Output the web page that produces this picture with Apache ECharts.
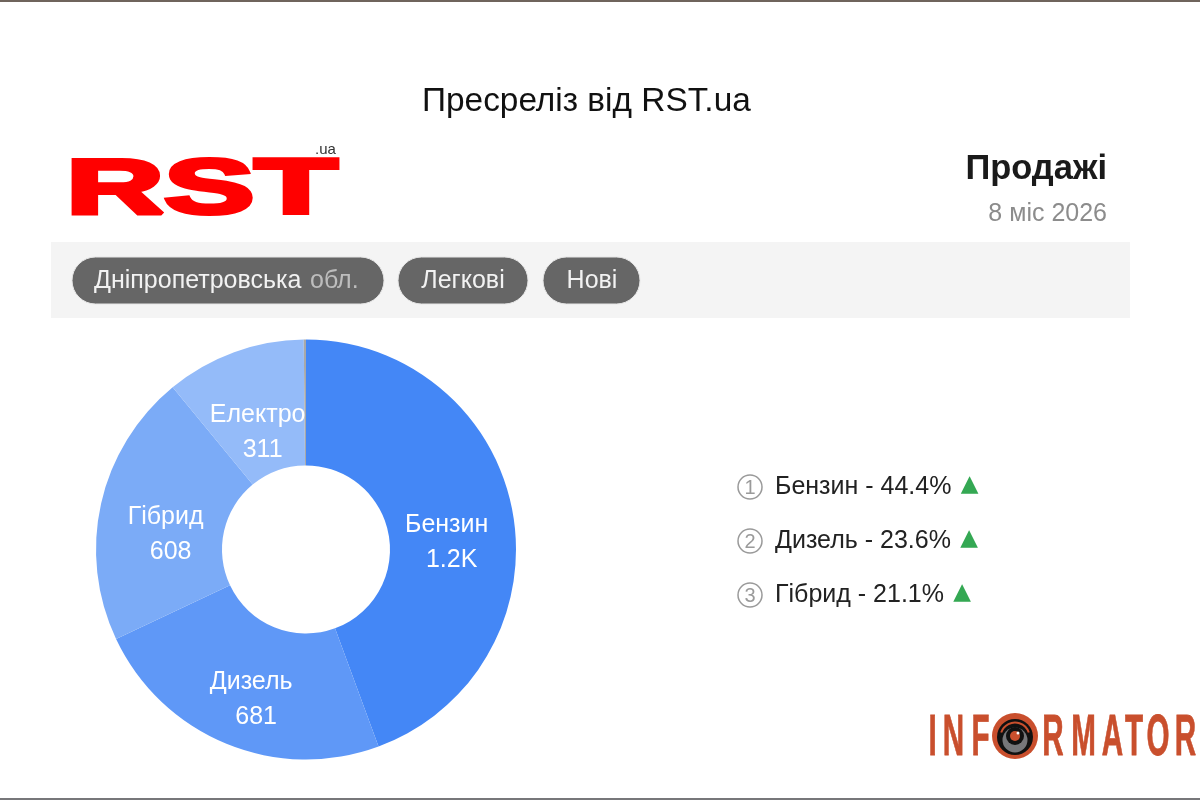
<!DOCTYPE html>
<html>
<head>
<meta charset="utf-8">
<title>RST.ua</title>
<script src="https://cdn.jsdelivr.net/npm/echarts@6/dist/echarts.min.js"></script>
<style>
  html, body { margin: 0; padding: 0; background: #fff; }
  #chart { width: 1200px; height: 800px; }
</style>
</head>
<body>
<div id="chart"></div>
<script>
// дані
var fuelNames = ['Бензин', 'Дизель', 'Гібрид', 'Електро', 'Інше'];
var fuelValues = [1281, 681, 608, 311, 5];
var fuelLabels = ['1.2K', '681', '608', '311', ''];
var topNames = ['Бензин', 'Дизель', 'Гібрид'];
var topShares = ['44.4', '23.6', '21.1'];
var filterTags = ['Легкові', 'Нові'];

// стилі
var fuelColors = ['#4487f6', '#5f98f7', '#7babf7', '#94bbf9', '#a9a9a9'];
var labelOffsets = [[-7, 19], [2, 11], [6, 18], [3, 24], [0, 0]];

var font = '"Liberation Sans", Arial, sans-serif';
var myChart = echarts.init(document.getElementById('chart'));

var pieData = fuelNames.map(function (name, i) {
  return {
    name: name,
    value: fuelValues[i],
    itemStyle: { color: fuelColors[i] },
    label: {
      show: fuelLabels[i] !== '',
      formatter: '{n|' + name + '}\n{v|' + fuelLabels[i] + '}',
      offset: labelOffsets[i]
    }
  };
});

function txt(x, y, text, size, color, extra) {
  var style = { x: x, y: y, text: text, fontSize: size, fill: color, fontFamily: font, verticalAlign: 'middle' };
  for (var k in extra) style[k] = extra[k];
  return { type: 'text', style: style };
}

function pill(x, w) {
  return { type: 'rect', shape: { x: x, y: 257, width: w, height: 47, r: 23.5 },
    style: { fill: '#666666', stroke: '#e6e6e6', lineWidth: 1 } };
}

var graphics = [
  { type: 'rect', shape: { x: 0, y: 0, width: 1200, height: 2 }, style: { fill: '#6f645c' } },
  { type: 'rect', shape: { x: 0, y: 798, width: 1200, height: 2 }, style: { fill: '#77777a' } },
  // смуга фільтрів
  { type: 'rect', shape: { x: 51, y: 242, width: 1079, height: 76 }, style: { fill: '#f4f4f4' } },
  pill(72, 312), pill(398, 130), pill(543, 97),
  txt(94, 281, 'Дніпропетровська', 25, '#f2f2f2'),
  txt(310, 281, 'обл.', 25, '#bdbdbd'),
  txt(463, 281, filterTags[0], 25, '#f2f2f2', { textAlign: 'center' }),
  txt(592, 281, filterTags[1], 25, '#f2f2f2', { textAlign: 'center' }),
  // логотип RST
  {
    type: 'text', x: 66, y: 191, scaleX: 1.74,
    style: { x: 0, y: 0, text: 'RST', fontSize: 78, fontWeight: 'bold', fontFamily: font, fill: '#ff0000', stroke: '#ff0000', lineWidth: 4, verticalAlign: 'middle' }
  },
  txt(315, 150, '.ua', 15, '#333333'),
  // заголовок справа
  txt(1107, 169, 'Продажі', 34.5, '#1a1a1a', { textAlign: 'right', fontWeight: 'bold' }),
  txt(1107, 214, '8 міс 2026', 25, '#8c8c8c', { textAlign: 'right' })
];

// топ-3
topNames.forEach(function (name, i) {
  var cy = 487 + i * 54;
  graphics.push({ type: 'circle', shape: { cx: 750, cy: cy, r: 12 }, style: { fill: '#fff', stroke: '#9a9a9a', lineWidth: 1.5 } });
  graphics.push(txt(750, cy + 1, String(i + 1), 20, '#9a9a9a', { textAlign: 'center' }));
  graphics.push({
    type: 'text',
    style: {
      x: 775, y: cy, verticalAlign: 'middle', fontFamily: font,
      text: '{t|' + name + ' - ' + topShares[i] + '%} {up|▲}',
      rich: {
        t: { fontSize: 25, fill: '#222222', fontFamily: font },
        up: { fontSize: 23, fill: '#34a853', fontFamily: '"DejaVu Sans"', padding: [0, 0, 4, 6] }
      }
    }
  });
});

// логотип INFORMATOR
var logoLetters = ['I', 'N', 'F', 'R', 'M', 'A', 'T', 'O', 'R'];
var logoX = [932.5, 953.5, 980.5, 1053, 1083.5, 1112.5, 1134, 1158, 1185.5];
logoLetters.forEach(function (ch, i) {
  graphics.push({
    type: 'text', x: logoX[i], y: 739, scaleX: 0.52,
    style: { x: 0, y: 0, text: ch, fontSize: 57, fontWeight: 'bold', fill: '#c94f2d', stroke: '#c94f2d', lineWidth: 0.8, fontFamily: font, textAlign: 'center', verticalAlign: 'middle' }
  });
});
graphics.push(
  { type: 'circle', shape: { cx: 1015, cy: 736, r: 23 }, style: { fill: '#c94f2d' } },
  { type: 'circle', shape: { cx: 1015, cy: 737, r: 18 }, style: { fill: '#111111' } },
  { type: 'arc', shape: { cx: 1015, cy: 737, r: 14.5, startAngle: Math.PI * 1.1, endAngle: Math.PI * 1.9 }, style: { fill: 'none', stroke: '#c94f2d', lineWidth: 2 } },
  { type: 'circle', shape: { cx: 1015, cy: 740, r: 12.5 }, style: { fill: '#77777a' } },
  { type: 'circle', shape: { cx: 1015, cy: 736, r: 9 }, style: { fill: '#111111' } },
  { type: 'circle', shape: { cx: 1015, cy: 736, r: 5 }, style: { fill: '#c94f2d' } },
  { type: 'circle', shape: { cx: 1018, cy: 733, r: 1.5 }, style: { fill: '#ffffff' } }
);

var option = {
  animation: false,
  backgroundColor: '#ffffff',
  title: {
    text: 'Пресреліз від RST.ua',
    left: 417, top: 80,
    textStyle: { fontSize: 33.4, fontWeight: 'normal', color: '#111111', fontFamily: font }
  },
  tooltip: {},
  series: [{
    type: 'pie',
    center: [306, 549.5],
    radius: [84, 210],
    startAngle: 90,
    clockwise: true,
    silent: true,
    avoidLabelOverlap: false,
    label: {
      position: 'inside',
      color: '#ffffff',
      fontFamily: font,
      align: 'center',
      rich: {
        n: { fontSize: 25, lineHeight: 35, color: '#ffffff', fontFamily: font },
        v: { fontSize: 25, lineHeight: 35, color: '#ffffff', fontFamily: font, padding: [0, 0, 0, 10] }
      }
    },
    labelLine: { show: false },
    data: pieData
  }],
  graphic: { elements: graphics }
};

myChart.setOption(option);
</script>
</body>
</html>
